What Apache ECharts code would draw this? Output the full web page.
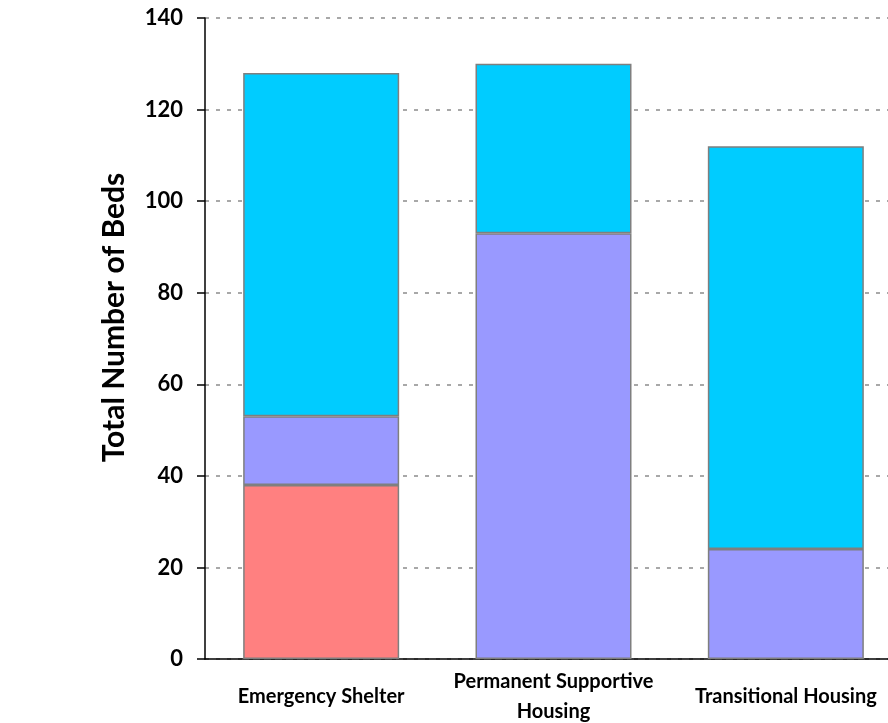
<!DOCTYPE html>
<html>
<head>
<meta charset="utf-8">
<script src="https://cdn.jsdelivr.net/npm/echarts@6/dist/echarts.min.js"></script>
<style>
html,body{margin:0;padding:0;background:#fff;}
#chart{width:888px;height:723px;}
</style>
</head>
<body>
<div id="chart"></div>
<script>
const categories = ['Emergency Shelter', 'Permanent Supportive\nHousing', 'Transitional Housing'];
const redValues = [38, null, null];
const purpleValues = [15, 93, 24];
const cyanValues = [75, 37, 88];
const yTicks = [0, 20, 40, 60, 80, 100, 120, 140];
const yTitle = 'Total Number of Beds';

const FONT = 'Lato';
const chart = echarts.init(document.getElementById('chart'), null, {renderer: 'canvas'});
const border = {borderColor: '#7f7f7f', borderWidth: 1.5};
chart.setOption({
  animation: false,
  backgroundColor: '#ffffff',
  grid: {left: 205, right: -14, top: 18, bottom: 64, containLabel: false, outerBoundsMode: 'none'},
  xAxis: {
    type: 'category',
    data: categories,
    axisLine: {lineStyle: {color: '#000', width: 1.5}},
    axisTick: {show: false},
    axisLabel: {
      interval: 0,
      margin: 38,
      verticalAlign: 'middle',
      lineHeight: 30,
      fontFamily: FONT,
      fontWeight: 'bold',
      fontSize: 20,
      color: '#000'
    }
  },
  yAxis: {
    type: 'value',
    min: yTicks[0],
    max: yTicks[yTicks.length - 1],
    interval: yTicks[1] - yTicks[0],
    name: yTitle,
    nameLocation: 'middle',
    nameGap: 76,
    nameTextStyle: {fontFamily: FONT, fontWeight: 'bold', fontSize: 30, color: '#000', padding: [0, 0, 0, 42]},
    axisLine: {show: true, lineStyle: {color: '#000', width: 1.5}},
    axisTick: {show: true, inside: false, length: 8, lineStyle: {color: '#000', width: 1.5}},
    axisLabel: {margin: 22, fontFamily: FONT, fontWeight: 'bold', fontSize: 22, color: '#000'},
    splitLine: {show: true, lineStyle: {color: '#8c8c8c', width: 1.5, type: [4, 7]}}
  },
  series: [
    {name: 'A', type: 'bar', stack: 'beds', data: redValues, barWidth: 156, itemStyle: Object.assign({color: '#ff8080'}, border)},
    {name: 'B', type: 'bar', stack: 'beds', data: purpleValues, barWidth: 156, itemStyle: Object.assign({color: '#9999ff'}, border)},
    {name: 'C', type: 'bar', stack: 'beds', data: cyanValues, barWidth: 156, itemStyle: Object.assign({color: '#00ccff'}, border)}
  ]
});
</script>
</body>
</html>
